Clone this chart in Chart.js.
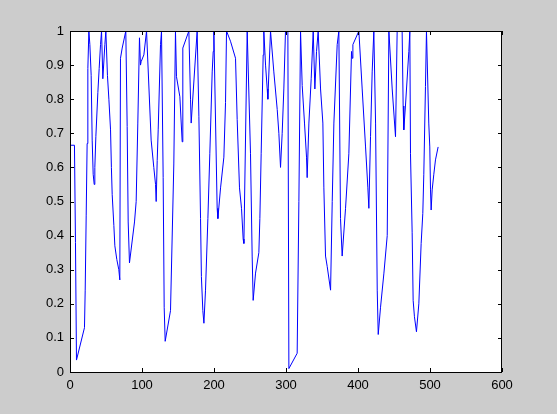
<!DOCTYPE html>
<html>
<head>
<meta charset="utf-8">
<script src="https://cdn.jsdelivr.net/npm/chart.js@4"></script>
<style>
  html, body { margin: 0; padding: 0; background: #cccccc; }
  #wrap { width: 557px; height: 414px; }
</style>
</head>
<body>
<div id="wrap"><canvas id="myChart" width="557" height="414"></canvas></div>
<script>
// sample index / value pairs
const xs = [
  0, 6.2, 7.6, 9, 20.1, 21.1, 22.5, 23.8, 24.8, 26.2, 27.6, 29.4, 30.8, 32.2, 33.6,
  34.5, 35.9, 38.7, 40.5, 42.4, 43.8, 45.6, 48.4, 49.8, 52, 54, 56.3, 57.5, 58.6, 60.9,
  62.3, 65, 67.8, 69.2, 70.1, 72.5, 77.5, 79.4, 80.8, 82.6, 89.6, 91.9, 94.2, 96.5,
  97.9, 98.8, 102.6, 106.3, 112.7, 116.4, 118.8, 119.7, 121.1, 122.5, 125.7, 127.1,
  129.4, 130.8, 132.2, 139.6, 144.2, 146.5, 147.9, 152.6, 155.8, 156.7, 165.1, 167.4,
  168.3, 176.6, 179, 181.3, 182.5, 184.5, 186, 188.2, 191.5, 194.2, 197.5, 198.9,
  199.8, 204.4, 205.4, 209.1, 213.7, 216, 217.4, 222.9, 229.9, 232.2, 235.4, 238.2,
  240.5, 241.5, 246.1, 250.7, 253, 254.4, 257.7, 262.3, 263.7, 265.5, 268.3, 269.2,
  271.6, 273.9, 274.8, 278.5, 283.1, 287.8, 290.1, 292.4, 294.7, 297, 299.3, 302.6,
  304, 315.5, 317.9, 320.2, 322.5, 325.7, 328.5, 329.4, 331.8, 335, 337.8, 340.1,
  342.4, 344.7, 348, 351.2, 352.6, 354.9, 357.2, 361.9, 364.2, 366.5, 371.1, 373.4,
  375.7, 378, 382.7, 387.3, 391, 392, 392.9, 401.2, 405.8, 410.5, 413.7, 415.1,
  417.4, 419.7, 422, 424.4, 426.7, 428.1, 431.3, 436, 440.6, 442.9, 447.5, 452.1,
  454.4, 461.3, 462.7, 463.6, 465.9, 470.6, 472, 472.9, 475.2, 476.6, 478.4, 481.2,
  484.5, 487.7, 490, 491.4, 493.7, 495.1, 498.3, 499.7, 500.7, 501.6, 503, 505.3,
  507.6, 511.3
];
const ys = [
  0.665, 0.665, 0.38, 0.035, 0.13, 0.24, 0.46, 0.67, 0.89, 1, 0.96, 0.87, 0.68, 0.58, 0.55,
  0.6, 0.69, 0.82, 0.89, 0.96, 1, 0.86, 0.96, 1, 0.87, 0.8, 0.71, 0.6, 0.52, 0.43,
  0.37, 0.33, 0.3, 0.27, 0.92, 0.95, 1, 0.72, 0.44, 0.32, 0.44, 0.5, 0.73, 0.98,
  0.9, 0.91, 0.93, 1, 0.68, 0.6, 0.55, 0.5, 0.62, 0.71, 0.96, 1,
  0.57, 0.19, 0.09, 0.18, 0.61, 1, 0.866, 0.807, 0.675, 0.95, 1, 0.8,
  0.73, 1, 0.75, 0.45, 0.28, 0.18, 0.143, 0.24, 0.45, 0.64, 0.88, 0.94,
  1, 0.48, 0.45, 0.54, 0.63, 0.79, 1, 0.97, 0.92, 0.74, 0.54, 0.48,
  0.39, 0.377, 1, 0.64, 0.34, 0.21, 0.29, 0.35, 0.45, 0.64, 0.93, 1,
  0.9, 0.83, 0.8, 1, 0.88, 0.77, 0.7, 0.6, 0.7, 0.83, 1, 1,
  0.01, 0.055, 0.5, 1, 0.84, 0.73, 0.63, 0.57, 0.73, 0.86, 1, 0.83,
  0.94, 1, 0.83, 0.73, 0.54, 0.34, 0.31, 0.24, 0.5, 0.73, 0.96, 1,
  0.45, 0.34, 0.48, 0.64, 0.94, 0.92, 0.96, 1, 0.83, 0.66, 0.54, 0.48,
  0.69, 0.88, 1, 0.73, 0.24, 0.11, 0.19, 0.29, 0.4, 1, 0.83, 0.69,
  1, 1, 0.78, 0.71, 0.78, 0.94, 1, 0.64, 0.41, 0.21, 0.162, 0.118,
  0.2, 0.377, 0.465, 0.58, 0.837, 1, 0.73, 0.66, 0.534, 0.475, 0.534, 0.58,
  0.622, 0.66
];
const xTicks = [0, 100, 200, 300, 400, 500, 600];
const yTicks = [0, 0.1, 0.2, 0.3, 0.4, 0.5, 0.6, 0.7, 0.8, 0.9, 1];

const points = xs.map( ( x, i ) => ( { x: x, y: ys[i] } ) );

// white axes box, black frame and inward ticks on all four sides
const matlabAxes = {
  id: 'matlabAxes',
  beforeDatasetsDraw( chart ) {
    const { ctx, chartArea: a } = chart;
    ctx.save();
    ctx.fillStyle = '#ffffff';
    ctx.fillRect( a.left, a.top, a.right - a.left, a.bottom - a.top );
    ctx.restore();
  },
  afterDatasetsDraw( chart ) {
    const { ctx, chartArea: a, scales } = chart;
    const len = 4;
    ctx.save();
    ctx.strokeStyle = '#000000';
    ctx.lineWidth = 1;
    ctx.beginPath();
    xTicks.forEach( ( v ) => {
      const px = Math.round( scales.x.getPixelForValue( v ) ) + 0.5;
      ctx.moveTo( px, a.bottom );
      ctx.lineTo( px, a.bottom - len );
      ctx.moveTo( px, a.top );
      ctx.lineTo( px, a.top + len );
    } );
    yTicks.forEach( ( v ) => {
      const py = Math.round( scales.y.getPixelForValue( v ) ) + 0.5;
      ctx.moveTo( a.left, py );
      ctx.lineTo( a.left + len, py );
      ctx.moveTo( a.right, py );
      ctx.lineTo( a.right - len, py );
    } );
    ctx.stroke();
    ctx.strokeRect( a.left + 0.5, a.top + 0.5, a.right - a.left - 1, a.bottom - a.top );
    ctx.restore();
  },
};

new Chart( document.getElementById( 'myChart' ), {
  type: 'line',
  data: {
    datasets: [
      {
        data: points,
        borderColor: '#0000ff',
        borderWidth: 1,
        pointRadius: 0,
        tension: 0,
        fill: false,
      },
    ],
  },
  options: {
    responsive: false,
    animation: false,
    layout: {
      padding: { left: 0, top: 31, right: 55, bottom: 0 },
    },
    scales: {
      x: {
        type: 'linear',
        min: 0,
        max: 600,
        afterFit: ( scale ) => { scale.height = 42; },
        afterBuildTicks: ( scale ) => { scale.ticks = xTicks.map( ( v ) => ( { value: v } ) ); },
        grid: { display: false, drawTicks: false },
        border: { display: false },
        ticks: {
          color: '#000000',
          padding: 6,
          maxRotation: 0,
          font: { family: 'Liberation Sans, Arial, sans-serif', size: 13 },
        },
      },
      y: {
        type: 'linear',
        min: 0,
        max: 1,
        afterFit: ( scale ) => { scale.width = 70; },
        afterBuildTicks: ( scale ) => { scale.ticks = yTicks.map( ( v ) => ( { value: v } ) ); },
        grid: { display: false, drawTicks: false },
        border: { display: false },
        ticks: {
          color: '#000000',
          padding: 6,
          font: { family: 'Liberation Sans, Arial, sans-serif', size: 13 },
          callback: ( value ) => String( Math.round( value * 10 ) / 10 ),
        },
      },
    },
    plugins: {
      legend: { display: false },
      tooltip: { enabled: false },
    },
  },
  plugins: [matlabAxes],
} );
</script>
</body>
</html>
